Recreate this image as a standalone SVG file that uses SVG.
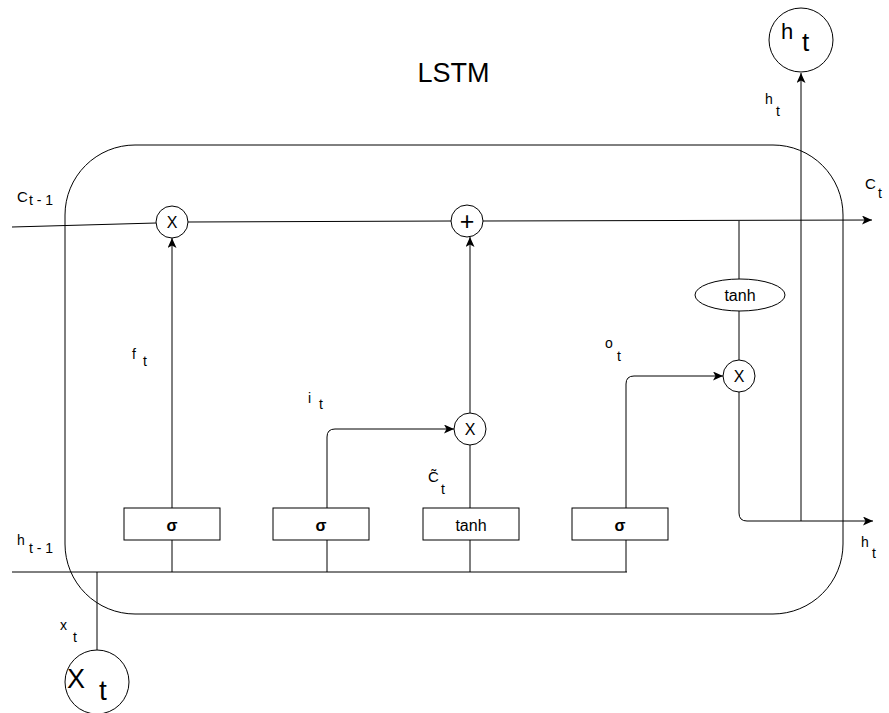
<svg xmlns="http://www.w3.org/2000/svg" width="889" height="713" viewBox="0 0 889 713">
<style>
  .ln{fill:none;stroke:#000;stroke-width:1}
  .nd{fill:#fff;stroke:#000;stroke-width:1}
  .t{font-family:"Liberation Sans",Helvetica,Arial,sans-serif;fill:#000}
  .c{text-anchor:middle}
  .lab{font-size:14px}
  .sub{font-size:14px}
</style>
<defs>
  <marker id="arr" markerUnits="userSpaceOnUse" markerWidth="12" markerHeight="10" refX="10" refY="4.5" orient="auto">
    <path d="M0,0 L10,4.5 L0,9 L2.5,4.5 z" fill="#000"/>
  </marker>
</defs>
<rect width="889" height="713" fill="#fff"/>

<g id="lstm-cell">
  <rect class="nd" x="65" y="145" width="778" height="469" rx="70" ry="70"/>
</g>
<text class="t c" x="453.5" y="82" font-size="27">LSTM</text>

<g id="connectors">
  <path class="ln" d="M12 227 L156 223"/>
  <path class="ln" d="M188 222 L451 221"/>
  <path class="ln" d="M483 221 L872 220" marker-end="url(#arr)"/>
  <path class="ln" d="M172 508 L172 238" marker-end="url(#arr)"/>
  <path class="ln" d="M327 508 L327 437 Q327 429 335 429 L454 429" marker-end="url(#arr)"/>
  <path class="ln" d="M470 508 L470 445"/>
  <path class="ln" d="M470 413 L470 237" marker-end="url(#arr)"/>
  <path class="ln" d="M626 508 L626 384 Q626 376 634 376 L723 376" marker-end="url(#arr)"/>
  <path class="ln" d="M739 221 L739 279"/>
  <path class="ln" d="M739 311 L739 360"/>
  <path class="ln" d="M739 392 L739 513 Q739 521 747 521 L873 521" marker-end="url(#arr)"/>
  <path class="ln" d="M801 521 L801 73" marker-end="url(#arr)"/>
  <path class="ln" d="M12 572 L627 572"/>
  <path class="ln" d="M172 540 L172 572"/>
  <path class="ln" d="M327 540 L327 572"/>
  <path class="ln" d="M470 540 L470 572"/>
  <path class="ln" d="M626 540 L626 572"/>
  <path class="ln" d="M97 572 L97 650"/>
</g>

<g id="forget-mult">
  <circle class="nd" cx="172" cy="222" r="16"/>
  <text class="t c" x="172" y="228" font-size="16">X</text>
</g>
<g id="add">
  <circle class="nd" cx="467" cy="221" r="16"/>
  <text class="t c" x="467" y="229.5" font-size="25">+</text>
</g>
<g id="input-mult">
  <circle class="nd" cx="470" cy="429" r="16"/>
  <text class="t c" x="470" y="435" font-size="16">X</text>
</g>
<g id="output-mult">
  <circle class="nd" cx="739" cy="376" r="16"/>
  <text class="t c" x="739" y="382" font-size="16">X</text>
</g>
<g id="tanh-c">
  <ellipse class="nd" cx="740" cy="295" rx="45" ry="16"/>
  <text class="t c" x="740" y="301" font-size="16">tanh</text>
</g>
<g id="sigma-f">
  <rect class="nd" x="124" y="508" width="96" height="32"/>
  <text class="t c" x="172" y="531" font-size="16" font-weight="bold">σ</text>
</g>
<g id="sigma-i">
  <rect class="nd" x="273" y="508" width="96" height="32"/>
  <text class="t c" x="321" y="531" font-size="16" font-weight="bold">σ</text>
</g>
<g id="tanh-g">
  <rect class="nd" x="423" y="508" width="96" height="32"/>
  <text class="t c" x="471" y="531" font-size="16">tanh</text>
</g>
<g id="sigma-o">
  <rect class="nd" x="572" y="508" width="96" height="32"/>
  <text class="t c" x="620" y="531" font-size="16" font-weight="bold">σ</text>
</g>
<g id="xt-input">
  <circle class="nd" cx="97" cy="682" r="32"/>
  <text class="t" x="67" y="688" font-size="27">X</text>
  <text class="t" x="99" y="700" font-size="28">t</text>
</g>
<g id="ht-output">
  <circle class="nd" cx="801" cy="40" r="32"/>
  <text class="t" x="781" y="39" font-size="22">h</text>
  <text class="t" x="802" y="51" font-size="26">t</text>
</g>

<g id="labels">
  <text class="t" x="17" y="202" font-size="15">C</text>
  <text class="t sub" x="29" y="205">t - 1</text>
  <text class="t" x="865" y="189" font-size="15">C</text>
  <text class="t sub" x="878" y="198">t</text>
  <text class="t lab" x="765" y="104">h</text>
  <text class="t sub" x="776" y="116">t</text>
  <text class="t lab" x="132" y="359">f</text>
  <text class="t sub" x="143" y="366">t</text>
  <text class="t lab" x="308" y="403">i</text>
  <text class="t sub" x="319" y="409">t</text>
  <text class="t" x="428" y="482" font-size="15">C&#771;</text>
  <text class="t sub" x="441" y="494">t</text>
  <text class="t lab" x="605" y="348">o</text>
  <text class="t sub" x="617" y="361">t</text>
  <text class="t lab" x="861" y="547">h</text>
  <text class="t sub" x="872" y="558">t</text>
  <text class="t lab" x="17" y="545">h</text>
  <text class="t sub" x="29" y="553">t - 1</text>
  <text class="t lab" x="60" y="630">x</text>
  <text class="t sub" x="73" y="642">t</text>
</g>
</svg>
